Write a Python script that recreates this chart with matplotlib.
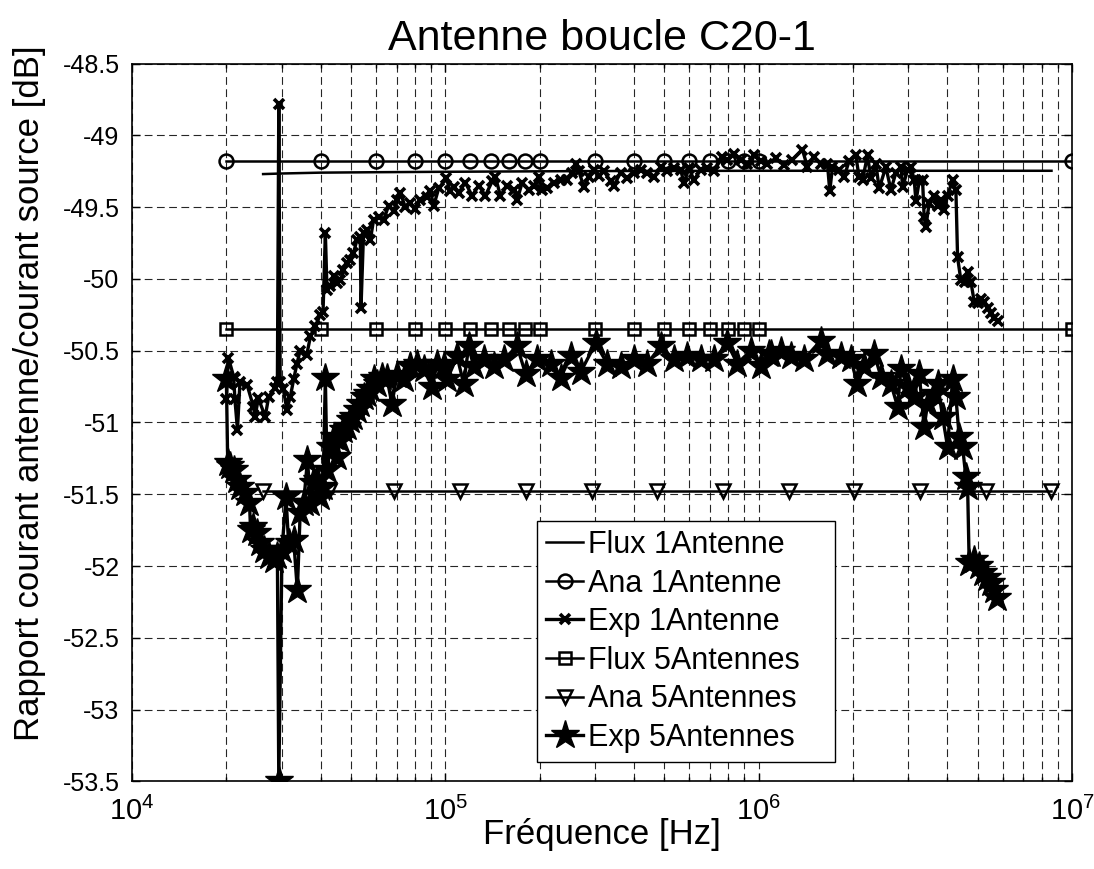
import numpy as np
import matplotlib
matplotlib.use("Agg")
import matplotlib.pyplot as plt
from matplotlib.ticker import LogLocator, FuncFormatter

# ---- data (frequency in kHz, level in dB) ----
ana_freq = [20, 40, 60, 80, 100, 120, 140, 160, 180, 200,
            300, 400, 500, 600, 700, 800, 900, 1000, 10000]
ana1_db = -49.18
flux5_db = -50.35

flux1_freq = [26.2, 30, 40, 60, 100, 300, 1000, 8600]
flux1_db = [-49.27, -49.266, -49.26, -49.257, -49.254, -49.249, -49.247, -49.247]

ana5_freq = [26.2, 42.4, 68.8, 111.5, 180.7, 293, 475, 770, 1248, 2020, 3280, 5310, 8600]
ana5_db = -51.48

exp1_freq = [20.0, 20.3, 21.1, 21.3, 21.7, 22.1, 23.3, 24.4, 24.7, 25.3, 26.6, 27.3, 28.6,
             29.1, 29.4, 29.7, 30.4, 31.2, 32.0, 32.8, 33.6, 34.4, 36.1, 37.1, 38.4, 39.9,
             40.7, 41.4, 41.9, 42.9, 44.0, 45.1, 46.2, 47.3, 48.5, 49.7, 50.9, 52.2, 53.5,
             53.8, 54.8, 56.2, 57.6, 59.0, 61.2, 63.5, 65.9, 68.4, 70.1, 71.8, 74.5, 77.3,
             80.2, 83.2, 87.4, 89.6, 91.8, 95.2, 100.7, 103.7, 106.3, 110.3, 115.8, 121.7,
             127.8, 134.2, 141.1, 144.5, 149.8, 157.4, 165.3, 169.5, 175.8, 184.6, 191.5,
             198.7, 203.7, 211.3, 221.8, 233.1, 244.9, 254.1, 260.3, 266.7, 276.7, 287.1,
             297.8, 309, 320.6, 336.8, 345.1, 362.4, 380.7, 399.5, 419.8, 441.0, 463.0,
             486.5, 510.9, 536.4, 563.5, 577.4, 599, 621.5, 653, 685.7, 720, 765.6, 794.3,
             834, 876, 920, 966, 1015, 1066, 1133, 1204, 1281, 1379, 1431, 1502, 1578, 1658,
             1686, 1720, 1805, 1873, 1943, 2041, 2091, 2145, 2225, 2280, 2366, 2424, 2546,
             2642, 2741, 2844, 2880, 2988, 3061, 3136, 3176, 3253, 3334, 3374, 3416, 3500,
             3631, 3723, 3815, 3908, 4007, 4157, 4260, 4313, 4419, 4551, 4643, 4757, 4875,
             4998, 5121, 5246, 5379, 5511, 5647, 5789]
exp1_db = [-50.84, -50.55, -50.68, -50.84, -51.05, -50.72, -50.74, -50.89, -50.96, -50.83,
           -50.96, -50.82, -50.76, -50.72, -48.78, -50.72, -50.77, -50.91, -50.82, -50.70,
           -50.59, -50.50, -50.53, -50.40, -50.33, -50.25, -50.23, -49.68, -50.08, -50.05,
           -49.98, -50.03, -50.01, -49.94, -49.89, -49.87, -49.82, -49.73, -49.71, -50.20,
           -49.68, -49.66, -49.73, -49.59, -49.57, -49.59, -49.49, -49.53, -49.45, -49.40,
           -49.50, -49.47, -49.51, -49.45, -49.43, -49.39, -49.49, -49.37, -49.30, -49.39,
           -49.36, -49.40, -49.33, -49.42, -49.35, -49.42, -49.32, -49.29, -49.42, -49.35,
           -49.38, -49.45, -49.33, -49.38, -49.35, -49.29, -49.38, -49.37, -49.33, -49.31,
           -49.31, -49.26, -49.20, -49.25, -49.36, -49.29, -49.24, -49.28, -49.25, -49.32,
           -49.35, -49.26, -49.30, -49.26, -49.24, -49.26, -49.29, -49.22, -49.25, -49.23,
           -49.24, -49.33, -49.23, -49.31, -49.24, -49.23, -49.25, -49.15, -49.17, -49.13,
           -49.17, -49.20, -49.14, -49.18, -49.20, -49.16, -49.21, -49.17, -49.10, -49.22,
           -49.15, -49.20, -49.20, -49.39, -49.22, -49.24, -49.29, -49.18, -49.14, -49.29,
           -49.31, -49.14, -49.30, -49.20, -49.37, -49.22, -49.38, -49.26, -49.22, -49.36,
           -49.24, -49.22, -49.31, -49.46, -49.32, -49.31, -49.57, -49.64, -49.47, -49.42,
           -49.49, -49.45, -49.52, -49.42, -49.31, -49.38, -49.85, -50.01, -50.02, -49.95,
           -50.02, -50.16, -50.17, -50.14, -50.16, -50.20, -50.24, -50.27, -50.29]

exp5_freq = [20.0, 20.2, 20.6, 21.1, 21.6, 22.1, 23.0, 23.7, 23.9, 24.4, 25.0, 25.6, 26.3,
             27.3, 28.3, 29.1, 29.4, 30.1, 31.0, 31.6, 32.8, 33.7, 34.4, 35.3, 36.3, 37.1,
             37.9, 38.9, 39.9, 40.7, 41.4, 41.9, 42.9, 44.0, 45.1, 46.2, 47.3, 48.5, 49.7,
             50.9, 52.2, 53.5, 54.8, 56.2, 57.6, 59.0, 60.5, 62.8, 65.1, 67.5, 70.1, 73.6,
             77.3, 81.2, 85.3, 90.7, 94.1, 98.8, 101.3, 109.0, 114.4, 118.7, 123.1, 132.6,
             142.7, 153.6, 169.5, 180.2, 196.3, 216.6, 233.1, 250.9, 270.1, 301.5, 328.7,
             362.4, 399.5, 441.0, 486.5, 536.4, 592, 653, 720, 794.3, 855, 943, 1015, 1079,
             1092, 1176, 1265, 1396, 1578, 1658, 1828, 1967, 2067, 2170, 2336, 2455, 2642,
             2775, 2844, 2988, 3136, 3253, 3374, 3459, 3631, 3723, 3863, 4007, 4157, 4260,
             4364, 4475, 4584, 4643, 4697, 4875, 5057, 5185, 5351, 5511, 5634, 5759]
exp5_db = [-50.70, -51.28, -51.30, -51.33, -51.40, -51.45, -51.49, -51.56, -51.75, -51.73,
           -51.77, -51.84, -51.89, -51.93, -51.96, -51.93, -53.50, -51.89, -51.52, -51.84,
           -51.82, -52.17, -51.63, -51.56, -51.26, -51.56, -51.42, -51.40, -51.52, -51.45,
           -50.69, -51.33, -51.17, -51.10, -51.24, -51.12, -51.05, -51.03, -50.98, -50.96,
           -50.91, -50.87, -50.82, -50.80, -50.77, -50.70, -50.73, -50.68, -50.69, -50.87,
           -50.67, -50.70, -50.61, -50.59, -50.63, -50.75, -50.59, -50.61, -50.70, -50.54,
           -50.73, -50.47, -50.61, -50.56, -50.61, -50.56, -50.47, -50.66, -50.56, -50.59,
           -50.69, -50.54, -50.65, -50.45, -50.59, -50.61, -50.56, -50.59, -50.47, -50.56,
           -50.54, -50.56, -50.56, -50.45, -50.59, -50.50, -50.61, -50.52, -50.52, -50.50,
           -50.54, -50.56, -50.43, -50.52, -50.54, -50.56, -50.73, -50.61, -50.52, -50.68,
           -50.73, -50.89, -50.63, -50.75, -50.82, -50.66, -51.03, -50.87, -50.80, -50.73,
           -50.96, -51.17, -50.70, -50.82, -51.10, -51.17, -51.38, -51.45, -51.98, -51.96,
           -52.00, -52.05, -52.08, -52.12, -52.17, -52.22]

legend_labels = ['Flux 1Antenne', 'Ana 1Antenne', 'Exp 1Antenne',
                 'Flux 5Antennes', 'Ana 5Antennes', 'Exp 5Antennes']
yticks = [-48.5, -49, -49.5, -50, -50.5, -51, -51.5, -52, -52.5, -53, -53.5]


def khz(f):
    return np.array(f) * 1e3


def main():
    plt.rcParams['font.family'] = ['Liberation Sans', 'DejaVu Sans']
    plt.rcParams['mathtext.fontset'] = 'custom'
    plt.rcParams['mathtext.rm'] = 'Liberation Sans'
    plt.rcParams['mathtext.default'] = 'regular'

    fig, ax = plt.subplots(figsize=(10.94, 8.69), dpi=100)
    plt.subplots_adjust(left=0.1207, right=0.9799, bottom=0.1008, top=0.9269)

    LW = 1.8
    ax.plot(khz(flux1_freq), flux1_db, color='k', lw=LW, label=legend_labels[0])
    ax.plot(khz(ana_freq), [ana1_db] * len(ana_freq), color='k', lw=LW, marker='o',
            ms=10, mfc='none', mew=1.8, label=legend_labels[1])
    ax.plot(khz(exp1_freq), exp1_db, color='k', lw=2.4, marker='x',
            ms=6.5, mew=2.6, label=legend_labels[2])
    ax.plot(khz(ana_freq), [flux5_db] * len(ana_freq), color='k', lw=LW, marker='s',
            ms=9, mfc='none', mew=1.8, label=legend_labels[3])
    ax.plot(khz(ana5_freq), [ana5_db] * len(ana5_freq), color='k', lw=LW, marker='v',
            ms=10, mfc='none', mew=1.8, label=legend_labels[4])
    ax.plot(khz(exp5_freq), exp5_db, color='k', lw=2.4, marker='*',
            ms=21, mfc='k', mew=1, label=legend_labels[5])

    ax.set_xscale('log')
    ax.set_xlim(1e4, 1e7)
    ax.set_ylim(-53.5, -48.5)
    ax.set_yticks(yticks)
    ax.yaxis.set_major_formatter(FuncFormatter(lambda v, p: '%g' % v))
    ax.xaxis.set_major_locator(LogLocator(base=10, numticks=10))
    ax.xaxis.set_minor_locator(LogLocator(base=10, subs=np.arange(2, 10), numticks=20))

    ax.grid(which='major', axis='both', color='k', linestyle=(0, (7, 4)), lw=0.8, alpha=0.85)
    ax.grid(which='minor', axis='x', color='k', linestyle=(0, (7, 4)), lw=0.8, alpha=0.85)
    ax.set_axisbelow(True)

    ax.tick_params(which='both', direction='in', top=True, right=True, labelsize=18)
    ax.tick_params(axis='y', pad=9)
    ax.tick_params(axis='x', pad=11, labelsize=21)
    ax.tick_params(which='major', length=6, width=1)
    ax.tick_params(which='minor', length=3, width=1)
    for s in ax.spines.values():
        s.set_linewidth(1.2)

    ax.set_title('Antenne boucle C20-1', fontsize=31, pad=10)
    ax.set_xlabel('Fréquence [Hz]', fontsize=25, labelpad=-6)
    ax.set_ylabel('Rapport courant antenne/courant source [dB]', fontsize=25)
    ax.yaxis.set_label_coords(-0.092, 0.541)

    leg = ax.legend(loc='lower left', bbox_to_anchor=(0.431, 0.027, 0.317, 0.33),
                    mode='expand', borderaxespad=0, fontsize=22,
                    handlelength=1.2, handletextpad=0.15, labelspacing=0.28,
                    borderpad=0.3, fancybox=False, framealpha=1, edgecolor='k')
    leg.get_frame().set_linewidth(1.0)

    fig.savefig('out.png', dpi=100)


main()
